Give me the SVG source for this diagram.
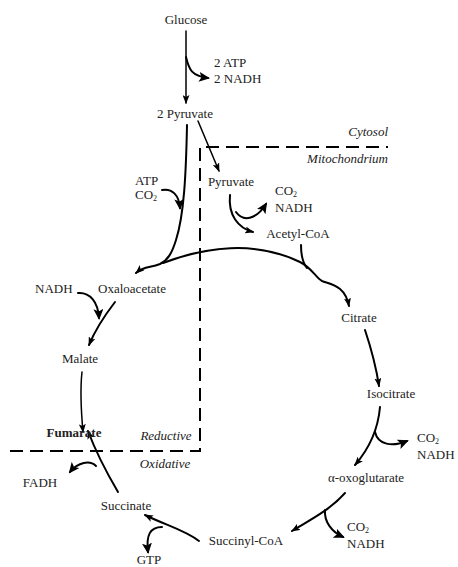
<svg xmlns="http://www.w3.org/2000/svg" width="458" height="567" viewBox="0 0 458 567">
<defs>
<marker id="a" markerWidth="9" markerHeight="7" refX="8" refY="3.5" orient="auto" markerUnits="userSpaceOnUse"><path d="M0,0 L9,3.5 L0,7 L2,3.5 Z" fill="#000"/></marker>
<marker id="b" markerWidth="11" markerHeight="10" refX="9" refY="5" orient="auto" markerUnits="userSpaceOnUse"><path d="M0,0 L11,5 L0,10 L2.5,5 Z" fill="#000"/></marker>
</defs>
<style>
text{font-family:"Liberation Serif","Times New Roman",serif;font-size:13px;fill:#222}
.m{text-anchor:middle}
.i{font-style:italic}
.e{text-anchor:end}
.s{font-size:8px}
.c path{fill:none;stroke:#000;stroke-width:2;stroke-linecap:round}
.c .t{stroke-width:1.5}
.d{fill:none;stroke:#000;stroke-width:2;stroke-dasharray:13 7}
</style>
<path class="d" d="M10,451 H200 V147 H388"/>
<g class="c" id="connectors">
<path class="t" d="M186,31 L186,103" marker-end="url(#a)"/>
<path d="M186,57 C189,70 192,76 208,78" marker-end="url(#b)"/>
<path class="t" d="M198,121 L219,171" marker-end="url(#a)"/>
<path d="M187,125 C186,175 184,215 176,240 C172,253 168,260 160,264 C150,268 144,266 136,273" marker-end="url(#a)"/>
<path d="M162,190 C172,188 179,195 180,208" marker-end="url(#b)"/>
<path d="M163,263 C205,247 255,240 300,262 C312,268 316,278 322,281 C333,285 345,286 349,306" marker-end="url(#a)"/>
<path d="M301,245 C301,255 302,262 307,268"/>
<path d="M230,195 C228,215 238,228 253,232" marker-end="url(#a)"/>
<path d="M236,212 C243,222 256,220 266,204" marker-end="url(#b)"/>
<path d="M115,302 C105,315 96,328 89,345" marker-end="url(#a)"/>
<path d="M78,293 C90,292 98,302 99,318" marker-end="url(#b)"/>
<path class="t" d="M82,372 C80,390 81,410 83,432" marker-end="url(#a)"/>
<path d="M365,330 C371,348 376,366 379,386" marker-end="url(#a)"/>
<path d="M380,407 C378,430 368,450 355,465" marker-end="url(#a)"/>
<path d="M375,432 C378,445 392,447 407,441" marker-end="url(#b)"/>
<path d="M345,493 C330,510 310,520 292,531" marker-end="url(#a)"/>
<path d="M325,510 C324,522 332,532 343,537" marker-end="url(#b)"/>
<path d="M199,541 C185,530 165,525 145,515" marker-end="url(#a)"/>
<path d="M162,527 C150,527 146,535 148,552" marker-end="url(#b)"/>
<path d="M118,492 C108,475 97,455 88,431" marker-end="url(#a)"/>
<path d="M96,466 C90,460 78,462 70,472" marker-end="url(#b)"/>
</g>
<g id="glucose"><text class="m" x="186" y="24">Glucose</text></g>
<g id="atp-nadh-1"><text x="214" y="67">2 ATP</text><text x="214" y="83">2 NADH</text></g>
<g id="pyruvate2"><text class="m" x="185" y="118">2 Pyruvate</text></g>
<g id="cytosol"><text class="i e" x="388" y="136">Cytosol</text></g>
<g id="mitochondrium"><text class="i e" x="388" y="163">Mitochondrium</text></g>
<g id="atp-co2"><text x="135" y="185">ATP</text><text x="135" y="199">CO<tspan class="s" dy="2">2</tspan></text></g>
<g id="pyruvate"><text class="m" x="231" y="186">Pyruvate</text></g>
<g id="co2-nadh-1"><text x="275" y="195">CO<tspan class="s" dy="2">2</tspan></text><text x="275" y="212">NADH</text></g>
<g id="acetylcoa"><text class="m" x="298" y="238">Acetyl-CoA</text></g>
<g id="nadh-2"><text x="35" y="293">NADH</text></g>
<g id="oxaloacetate"><text class="m" x="132" y="293">Oxaloacetate</text></g>
<g id="citrate"><text class="m" x="359" y="322">Citrate</text></g>
<g id="malate"><text class="m" x="80" y="363">Malate</text></g>
<g id="isocitrate"><text class="m" x="391" y="398">Isocitrate</text></g>
<g id="fumarate"><text class="m" x="74" y="437" font-weight="bold">Fumarate</text></g>
<g id="reductive"><text class="i m" x="166" y="440">Reductive</text></g>
<g id="oxidative"><text class="i m" x="165" y="468">Oxidative</text></g>
<g id="co2-nadh-2"><text x="417" y="442">CO<tspan class="s" dy="2">2</tspan></text><text x="417" y="459">NADH</text></g>
<g id="fadh"><text class="m" x="40" y="487">FADH</text></g>
<g id="oxoglutarate"><text class="m" x="366" y="482">α-oxoglutarate</text></g>
<g id="succinate"><text class="m" x="126" y="510">Succinate</text></g>
<g id="co2-nadh-3"><text x="347" y="531">CO<tspan class="s" dy="2">2</tspan></text><text x="347" y="548">NADH</text></g>
<g id="succinylcoa"><text class="m" x="246" y="545">Succinyl-CoA</text></g>
<g id="gtp"><text class="m" x="149" y="564">GTP</text></g>
</svg>
